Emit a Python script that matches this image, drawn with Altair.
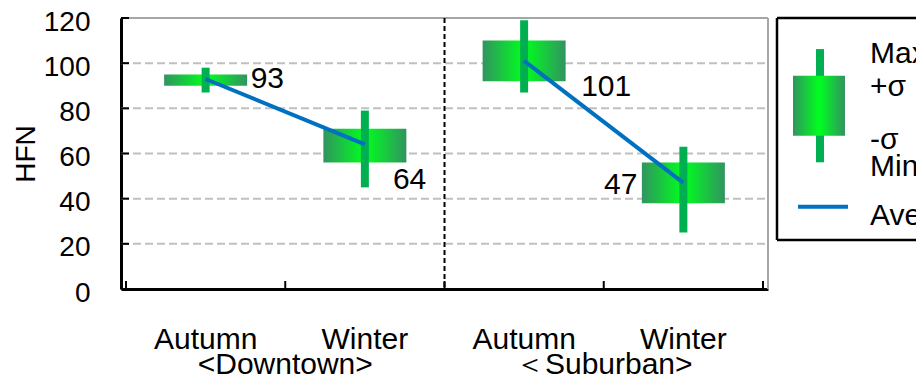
import altair as alt
import pandas as pd

# ---- data ----
sites = ["Downtown", "Downtown", "Suburban", "Suburban"]
seasons = ["Autumn", "Winter", "Autumn", "Winter"]
max_v = [98, 79, 119, 63]
plus_sd = [95, 71, 110, 56]
mean_v = [93, 64, 101, 47]
minus_sd = [90, 56, 92, 38]
min_v = [87, 45, 87, 25]
site_labels = ["<Downtown>", "＜Suburban>"]
y_ticks = [0, 20, 40, 60, 80, 100, 120]
grid_vals = [20, 40, 60, 80, 100]

# legend sample glyph (in legend units 0..100)
leg_max, leg_plus, leg_minus, leg_min, leg_ave = 86, 74, 47, 35, 15
leg_texts = ["Max.", "+σ", "-σ", "Min.", "Ave."]
leg_text_y = [84, 69, 45, 33, 11]

FONT = "Liberation Sans"
W, H = 647, 271
LX = W + 9          # legend frame left edge (px from plot left)
LH = 222            # legend frame height

df = pd.DataFrame({
    "idx": range(len(sites)), "site": sites, "season": seasons,
    "max": max_v, "plus": plus_sd, "mean": mean_v, "minus": minus_sd, "min": min_v,
})
df["pos"] = df["idx"] + 0.5

site_df = pd.DataFrame({"label": site_labels, "center": [1, 3]})
ytick_df = pd.DataFrame({"v": y_ticks})
grid_df = pd.DataFrame({"v": grid_vals})
xtick_df = pd.DataFrame({"b": list(range(len(sites) + 1))})
div_df = pd.DataFrame({"b": [2]})

xs = alt.Scale(domain=[0, 4], nice=False, zero=False)
ys = alt.Scale(domain=[0, 120], nice=False)

XA = alt.Axis(labels=False, ticks=False, grid=False, domainColor="black", domainWidth=3)
YA = alt.Axis(values=y_ticks, grid=False, ticks=False, tickSize=0, labelPadding=31, labelOffset=4,
              labelFontSize=28, labelColor="black", labelFont=FONT,
              titleFontSize=28, titleFontWeight="normal", titleColor="black",
              titleFont=FONT, titlePadding=3, domainColor="black", domainWidth=3)


def X(field):
    return alt.X(field, scale=xs, axis=XA, title=None)


def Y(field):
    return alt.Y(field, scale=ys, axis=YA, title="HFN")


grad = {
    "gradient": "linear", "x1": 0, "x2": 1, "y1": 0, "y2": 0,
    "stops": [
        {"offset": 0, "color": "#319460"},
        {"offset": 0.5, "color": "#00FF1E"},
        {"offset": 1, "color": "#319460"},
    ],
}

grid = alt.Chart(grid_df).mark_rule(color="#C0C0C0", strokeDash=[8, 4], strokeWidth=2).encode(
    y=Y("v:Q"), x=alt.value(0), x2=alt.value(W)
)
border = alt.Chart(grid_df).mark_rule(color="#A6A6A6", strokeWidth=2).encode(
    x=alt.value(0), x2=alt.value(W), y=alt.value(0)
)
border_r = alt.Chart(grid_df).mark_rule(color="#A6A6A6", strokeWidth=2).encode(
    x=alt.value(W), y=alt.value(0), y2=alt.value(H)
)

whisker = alt.Chart(df).mark_rule(color="#00B050", strokeWidth=8).encode(
    x=X("pos:Q"), y=Y("min:Q"), y2="max:Q",
)

box = alt.Chart(df).mark_bar(size=83, color=grad).encode(
    x=X("pos:Q"), y=Y("minus:Q"), y2="plus:Q",
)

line = alt.Chart(df).mark_line(color="#0070C0", strokeWidth=4).encode(
    x=X("pos:Q"), y=Y("mean:Q"), detail="site:N",
)

label_style = [(45, 0, "left"), (28, 36, "left"), (57, 26, "left"), (-46, 2, "right")]
value_labels = []
for i, (dx, dy, al) in enumerate(label_style):
    value_labels.append(
        alt.Chart(df).transform_filter(alt.datum.idx == i).mark_text(
            fontSize=30, font=FONT, color="black", dx=dx, dy=dy, align=al, baseline="middle"
        ).encode(x=X("pos:Q"), y=Y("mean:Q"), text="mean:Q")
    )

yticks = alt.Chart(ytick_df).mark_rule(color="black", strokeWidth=2).encode(
    y=Y("v:Q"), x=alt.value(0), x2=alt.value(8)
)
xticks = alt.Chart(xtick_df).mark_rule(color="black", strokeWidth=2).encode(
    x=X("b:Q"), y=alt.value(H), y2=alt.value(H - 8)
)
divider = alt.Chart(div_df).mark_rule(color="black", strokeDash=[5, 3], strokeWidth=2).encode(
    x=X("b:Q"), y=alt.value(0), y2=alt.value(H)
)

season_text = alt.Chart(df).mark_text(fontSize=30, font=FONT, color="black", baseline="alphabetic").encode(
    x=X("pos:Q"), y=alt.value(H + 60), text="season:N"
)
site_text = alt.Chart(site_df).mark_text(fontSize=30, font=FONT, color="black", baseline="alphabetic").encode(
    x=X("center:Q"), y=alt.value(H + 85), text="label:N"
)

main = alt.layer(
    grid, border, border_r, box, whisker, line, *value_labels, yticks, xticks, divider,
    season_text, site_text
)

# ---- legend (frame runs off the right edge of the picture, as in the reference) ----
lys = alt.Scale(domain=[0, 100], nice=False, range=[LH, 0])
leg_df = pd.DataFrame({"max": [leg_max], "plus": [leg_plus], "minus": [leg_minus],
                       "min": [leg_min], "ave": [leg_ave]})
leg_txt_df = pd.DataFrame({"t": leg_texts, "y": leg_text_y})
frame_df = pd.DataFrame({"k": [0]})

leg_whisker = alt.Chart(leg_df).mark_rule(color="#00B050", strokeWidth=8).encode(
    x=alt.value(LX + 43), y=alt.Y("min:Q", scale=lys, axis=None), y2="max:Q"
)
leg_box = alt.Chart(leg_df).mark_bar(color=grad).encode(
    x=alt.value(LX + 16), x2=alt.value(LX + 68), y=alt.Y("minus:Q", scale=lys, axis=None), y2="plus:Q"
)
leg_line = alt.Chart(leg_df).mark_rule(color="#0070C0", strokeWidth=4).encode(
    x=alt.value(LX + 21), x2=alt.value(LX + 71), y=alt.Y("ave:Q", scale=lys, axis=None)
)
leg_text = alt.Chart(leg_txt_df).mark_text(fontSize=30, font=FONT, color="black", align="left",
                                           baseline="middle").encode(
    x=alt.value(LX + 93), y=alt.Y("y:Q", scale=lys, axis=None), text="t:N"
)
frame_left = alt.Chart(frame_df).mark_rule(color="black", strokeWidth=2.5).encode(
    x=alt.value(LX), y=alt.value(0), y2=alt.value(LH)
)
frame_top = alt.Chart(frame_df).mark_rule(color="black", strokeWidth=2.5).encode(
    x=alt.value(LX), x2=alt.value(LX + 220), y=alt.value(0)
)
frame_bot = alt.Chart(frame_df).mark_rule(color="black", strokeWidth=2.5).encode(
    x=alt.value(LX), x2=alt.value(LX + 220), y=alt.value(LH)
)
legend = alt.layer(leg_whisker, leg_box, leg_line, leg_text, frame_left, frame_top, frame_bot)

chart = alt.layer(main, legend).resolve_scale(y="independent").properties(
    width=W, height=H,
    autosize=alt.AutoSizeParams(type="none"),
    padding={"left": 113, "top": 10, "right": 148, "bottom": 85},
).configure(font=FONT).configure_view(stroke=None)

chart.save("out.html", embed_options={"renderer": "svg", "actions": False})
